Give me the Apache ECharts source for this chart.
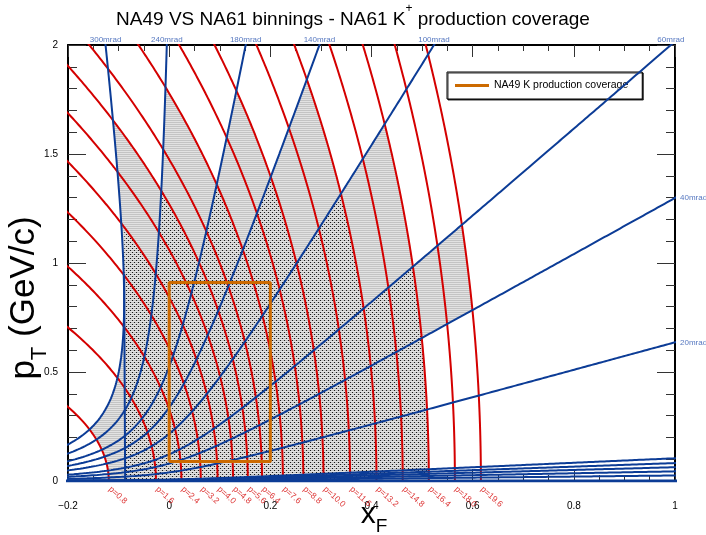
<!DOCTYPE html>
<html><head><meta charset="utf-8">
<script src="https://cdn.jsdelivr.net/npm/echarts@6/dist/echarts.min.js"></script>
<style>html,body{margin:0;padding:0;background:#fff}#c{width:706px;height:535px}</style>
</head><body><div id="c"></div>
<script>
// ---- data ----
const momentaGeV = [0.8,1.6,2.4,3.2,4.0,4.8,5.6,6.4,7.6,8.8,10.0,11.6,13.2,14.8,16.4,18.0,19.6];
const anglesTopMrad = [300,240,180,140,100,60];
const anglesRightMrad = [40,20];
const anglesSmallMrad = [0,0.8,1.4,2.0,2.6,3.3];
const xTickValues = [-0.2,0,0.2,0.4,0.6,0.8,1];
const yTickValues = [0,0.5,1,1.5,2];
// coverage cells [thetaLow, thetaHigh (mrad), pLow, pHigh (GeV/c)]
const coverageLight = [[240,300,0.8,5.6],[180,240,0.8,7.6],[140,180,0.8,10.0],[100,140,0.8,13.2],[60,100,0.8,16.4],[40,60,0.8,19.6],[20,40,0.8,16.4],[0,20,0.8,16.4]];
const coverageDots  = [[240,300,0.8,4.0],[180,240,0.8,5.6],[140,180,0.8,7.6],[100,140,0.8,10.0],[60,100,0.8,13.2],[40,60,0.8,16.4],[20,40,0.8,16.4],[0,20,0.8,16.4]];
const dotsMinXF = -0.088;
const extraLineXF = [-0.087,-0.089];
const extraLinePT = [0,0.95];
const na49XF = [0,0.2];
const na49PT = [0.09,0.91];

// ---- kinematics (31 GeV/c beam, K+ mass) ----
const mK=0.4937, mN=0.93827, pBeam=31;
const EB=Math.sqrt(pBeam*pBeam+mN*mN), rs=Math.sqrt(2*mN*mN+2*mN*EB);
const gam=(EB+mN)/rs, bg=pBeam/rs;
function kin(p,th){const pT=p*Math.sin(th),pL=p*Math.cos(th),E=Math.sqrt(p*p+mK*mK);return [2*(gam*pL-bg*E)/rs,pT];}
function redCurve(p){const pts=[];const N=3000;for(let i=0;i<=N;i++){const th=Math.PI*Math.pow(i/N,2);const q=kin(p,th);pts.push(q);if(q[1]>2.05||q[0]<-0.22)break;}return pts;}
function blueCurve(mr){const th=mr/1000;const pts=[];const N=3000;for(let i=0;i<=N;i++){const p=45*Math.pow(i/N,2);const q=kin(p,th);pts.push(q);if(q[1]>2.05||q[0]>1.02)break;}return pts;}
function cellPoly(c){const [t1,t2,p1,p2]=[c[0]/1000,c[1]/1000,c[2],c[3]];const pts=[];const N=40;
 for(let i=0;i<=N;i++)pts.push(kin(p1,t1+(t2-t1)*i/N));
 for(let i=0;i<=N;i++)pts.push(kin(p1+(p2-p1)*i/N,t2));
 for(let i=N;i>=0;i--)pts.push(kin(p2,t1+(t2-t1)*i/N));
 for(let i=N;i>=0;i--)pts.push(kin(p1+(p2-p1)*i/N,t1));
 return pts;}
function clipLeft(poly,xm){const out=[];for(let i=0;i<poly.length;i++){const a=poly[i],b=poly[(i+1)%poly.length];const ia=a[0]>=xm,ib=b[0]>=xm;
 if(ia)out.push(a);if(ia!==ib){const t=(xm-a[0])/(b[0]-a[0]);out.push([xm,a[1]+t*(b[1]-a[1])]);}}return out;}

function pattern(w,h,fn){const c=document.createElement('canvas');c.width=w;c.height=h;fn(c.getContext('2d'));return {image:c,repeat:'repeat'};}
const patLight=pattern(2,2,g=>{g.fillStyle='#c4c4c4';g.fillRect(0,0,2,1);g.fillStyle='#e2e2e2';g.fillRect(0,1,2,1);});
const patDots=pattern(4,4,g=>{g.fillStyle='#1a1a1a';g.fillRect(0,0,1,1);g.fillRect(2,2,1,1);});

const polysLight=coverageLight.map(cellPoly);
const polysDots=coverageDots.map(c=>clipLeft(cellPoly(c),dotsMinXF));

const RED='#d40000', BLUE='#0c3c96', ORANGE='#cc6a00', LBLUE='#2a55b0';
const FONT='Liberation Sans';
const series=[];
function fillSeries(polys,pat){return {type:'custom',coordinateSystem:'cartesian2d',clip:true,z:1,silent:true,
 data:polys.map((_,i)=>[i]),
 renderItem:(params,api)=>({type:'polygon',shape:{points:polys[params.dataIndex].map(pt=>api.coord(pt))},style:{fill:pat,stroke:pat,lineWidth:0.6}})};}
series.push(fillSeries(polysLight,patLight));
series.push(fillSeries(polysDots,patDots));
momentaGeV.forEach(p=>series.push({type:'line',data:redCurve(p),showSymbol:false,clip:true,z:3,silent:true,lineStyle:{color:RED,width:2},animation:false}));
[...anglesTopMrad,...anglesRightMrad,...anglesSmallMrad].forEach(a=>series.push({type:'line',data:blueCurve(a),showSymbol:false,clip:true,z:4,silent:true,lineStyle:{color:BLUE,width:a===0?3:2},animation:false}));
series.push({type:'line',data:extraLineXF.map((x,i)=>[x,extraLinePT[i]]),showSymbol:false,clip:true,z:4,lineStyle:{color:BLUE,width:2},animation:false});
series.push({name:'NA49 K production coverage',type:'line',showSymbol:false,z:6,animation:false,
 data:[[na49XF[0],na49PT[0]],[na49XF[1],na49PT[0]],[na49XF[1],na49PT[1]],[na49XF[0],na49PT[1]],[na49XF[0],na49PT[0]]],
 lineStyle:{color:ORANGE,width:3},itemStyle:{color:ORANGE}});
// momentum labels
series.push({type:'scatter',symbolSize:0,clip:false,z:7,silent:true,animation:false,
 data:momentaGeV.map(p=>[kin(p,0)[0],0,'p='+p.toFixed(1)]),
 label:{show:true,formatter:pr=>pr.value[2],position:[1,7],align:'left',verticalAlign:'middle',rotate:-42,color:RED,fontSize:8.5,fontFamily:FONT}});
// angle labels top
series.push({type:'scatter',symbolSize:0,clip:false,z:7,silent:true,animation:false,
 data:anglesTopMrad.map(a=>{const th=a/1000;return [kin(2/Math.sin(th),th)[0],2,a+'mrad'];}),
 label:{show:true,formatter:pr=>pr.value[2],position:'top',distance:1,color:LBLUE,fontSize:8,fontFamily:FONT}});
function pAtXF1(a){const th=a/1000;let lo=1,hi=60;for(let k=0;k<60;k++){const m=(lo+hi)/2;if(kin(m,th)[0]<1)lo=m;else hi=m;}return kin(lo,th);}
series.push({type:'scatter',symbolSize:0,clip:false,z:7,silent:true,animation:false,
 data:anglesRightMrad.map(a=>{const q=pAtXF1(a);return [1,q[1],a+'mrad'];}),
 label:{show:true,formatter:pr=>pr.value[2],position:'right',distance:5,color:LBLUE,fontSize:8,fontFamily:FONT}});

const fmt=v=>v<0?'\u2212'+Math.abs(v):String(v);
function xAx(pos,labels){return {type:'value',position:pos,min:xTickValues[0],max:xTickValues[xTickValues.length-1],interval:0.2,
 axisLine:{show:true,onZero:false,lineStyle:{color:'#000',width:2}},
 axisTick:{show:true,inside:true,length:12,lineStyle:{color:'#333',width:1}},
 minorTick:{show:true,splitNumber:4,length:6,lineStyle:{color:'#333',width:1}},
 splitLine:{show:false},
 axisLabel:{show:labels,formatter:fmt,margin:20,fontSize:10,color:'#000',fontFamily:FONT}};}
function yAx(pos,labels){return {type:'value',position:pos,min:yTickValues[0],max:yTickValues[yTickValues.length-1],interval:0.5,
 axisLine:{show:true,onZero:false,lineStyle:{color:'#000',width:2}},
 axisTick:{show:true,inside:true,length:18,lineStyle:{color:'#333',width:1}},
 minorTick:{show:true,splitNumber:5,length:9,lineStyle:{color:'#333',width:1}},
 splitLine:{show:false},
 axisLabel:{show:labels,formatter:fmt,margin:10,fontSize:10,color:'#000',fontFamily:FONT}};}

const chart=echarts.init(document.getElementById('c'),null,{renderer:'canvas'});
chart.setOption({
 animation:false,
 backgroundColor:'#fff',
 title:{left:'center',top:-2,text:'{n|NA49 VS NA61 binnings - NA61 K}{s|+}{n| production coverage}',
  textStyle:{fontFamily:FONT,fontWeight:'normal',color:'#000',rich:{
   n:{fontSize:19,fontFamily:FONT,lineHeight:26,verticalAlign:'bottom',color:'#000'},
   s:{fontSize:12,fontFamily:FONT,lineHeight:26,verticalAlign:'top',color:'#000'}}}},
 legend:{data:[{name:'NA49 K production coverage',icon:'rect'}],selectedMode:false,left:447,top:72,
  itemWidth:34,itemHeight:3,itemGap:6,padding:[8,14,8,8],borderColor:'#000',borderWidth:1,backgroundColor:'#fff',
  shadowColor:'rgba(0,0,0,0.8)',shadowOffsetX:1,shadowOffsetY:1,shadowBlur:0,
  textStyle:{fontSize:10.5,color:'#000',fontFamily:FONT}},
 grid:{left:68,right:31,top:45,bottom:54},
 xAxis:[xAx('bottom',true),xAx('top',false)],
 yAxis:[yAx('left',true),yAx('right',false)],
 graphic:[
  {type:'text',x:29,y:298,rotation:Math.PI/2,style:{text:'{a|p}{b|T}{a| (GeV/c)}',align:'center',verticalAlign:'middle',
   rich:{a:{fontSize:35,fontFamily:FONT,lineHeight:44,verticalAlign:'top',fill:'#000'},b:{fontSize:22,fontFamily:FONT,lineHeight:44,verticalAlign:'bottom',fill:'#000'}}}},
  {type:'text',x:374,y:518,style:{text:'{a|x}{b|F}',align:'center',verticalAlign:'middle',
   rich:{a:{fontSize:30,fontFamily:FONT,lineHeight:36,verticalAlign:'top',fill:'#000'},b:{fontSize:19,fontFamily:FONT,lineHeight:36,verticalAlign:'bottom',fill:'#000'}}}}
 ],
 series:series
});
</script></body></html>
